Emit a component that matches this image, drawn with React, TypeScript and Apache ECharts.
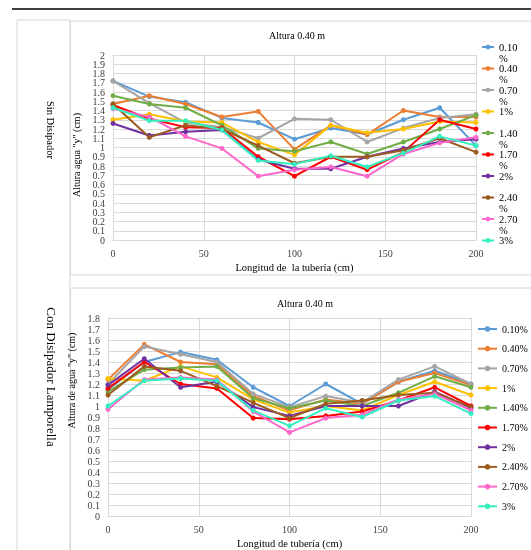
import React, { useEffect, useRef } from 'react';
import * as echarts from 'echarts';

const distances = [0, 20, 40, 60, 80, 100, 120, 140, 160, 180, 200];
const slopeNames = ['0.10%', '0.40%', '0.70%', '1%', '1.40%', '1.70%', '2%', '2.40%', '2.70%', '3%'];
const lineColors = ['#5B9BD5', '#ED7D31', '#A5A5A5', '#FFC000', '#70AD47', '#FF0000', '#7030A0', '#9C5B1F', '#FF66CC', '#33F0C0'];

// Sin Disipador (top chart)
const sin_0_10 = [1.72, 1.55, 1.49, 1.32, 1.27, 1.09, 1.21, 1.14, 1.30, 1.43, 1.02];
const sin_0_40 = [1.47, 1.56, 1.47, 1.33, 1.39, 0.98, 1.24, 1.14, 1.40, 1.33, 1.33];
const sin_0_70 = [1.72, 1.48, 1.27, 1.22, 1.10, 1.31, 1.30, 1.06, 1.21, 1.32, 1.36];
const sin_1 = [1.30, 1.36, 1.28, 1.27, 1.06, 0.92, 1.24, 1.16, 1.20, 1.28, 1.27];
const sin_1_40 = [1.56, 1.47, 1.43, 1.24, 0.99, 0.96, 1.06, 0.93, 1.06, 1.20, 1.35];
const sin_1_70 = [1.46, 1.31, 1.22, 1.21, 0.90, 0.69, 0.90, 0.76, 0.95, 1.30, 1.20];
const sin_2 = [1.26, 1.13, 1.17, 1.19, 0.87, 0.77, 0.77, 0.90, 0.99, 1.06, 1.09];
const sin_2_40 = [1.47, 1.11, 1.24, 1.20, 1.02, 0.83, 0.90, 0.90, 0.97, 1.10, 0.95];
const sin_2_70 = [1.42, 1.33, 1.12, 0.99, 0.69, 0.76, 0.79, 0.69, 0.93, 1.05, 1.11];
const sin_3 = [1.43, 1.29, 1.29, 1.19, 0.86, 0.82, 0.91, 0.79, 0.94, 1.12, 1.02];

// Con Disipador Lamporella (bottom chart)
const con_0_10 = [1.15, 1.40, 1.49, 1.42, 1.17, 1.00, 1.20, 1.02, 1.22, 1.32, 1.20];
const con_0_40 = [1.24, 1.56, 1.40, 1.38, 1.09, 0.96, 1.06, 1.02, 1.22, 1.30, 1.19];
const con_0_70 = [1.20, 1.54, 1.47, 1.40, 1.11, 0.99, 1.09, 1.03, 1.24, 1.36, 1.20];
const con_1 = [1.25, 1.23, 1.36, 1.26, 1.06, 0.94, 1.00, 0.96, 1.10, 1.22, 1.10];
const con_1_40 = [1.13, 1.33, 1.35, 1.36, 1.07, 0.98, 1.05, 1.00, 1.12, 1.27, 1.17];
const con_1_70 = [1.16, 1.40, 1.20, 1.16, 0.89, 0.88, 0.91, 0.95, 1.05, 1.17, 1.00];
const con_2 = [1.19, 1.43, 1.17, 1.22, 0.99, 0.91, 1.00, 1.00, 1.00, 1.13, 0.98];
const con_2_40 = [1.10, 1.36, 1.32, 1.18, 1.03, 0.89, 1.02, 1.05, 1.10, 1.12, 0.99];
const con_2_70 = [0.97, 1.24, 1.26, 1.24, 0.95, 0.76, 0.89, 0.92, 1.06, 1.11, 0.96];
const con_3 = [1.00, 1.23, 1.25, 1.23, 0.96, 0.82, 0.98, 0.90, 1.05, 1.09, 0.93];

const sinSeries = [sin_0_10, sin_0_40, sin_0_70, sin_1, sin_1_40, sin_1_70, sin_2, sin_2_40, sin_2_70, sin_3];
const conSeries = [con_0_10, con_0_40, con_0_70, con_1, con_1_40, con_1_70, con_2, con_2_40, con_2_70, con_3];

const FONT = '"Liberation Serif", "Times New Roman", serif';
const GRID_GRAY = '#d9d9d9';
const FRAME_GRAY = '#d6d6d6';

export default function App() {
  const ref = useRef<HTMLDivElement>(null);

  useEffect(() => {
    const chart = echarts.init(ref.current as HTMLDivElement, null, { renderer: 'svg' });

    const labelStyle = { fontFamily: FONT, fontSize: 10, color: '#404040', margin: 8 };

    const mkX = (gridIndex: number, name: string) => ({
      type: 'value',
      gridIndex,
      min: 0,
      max: 200,
      interval: 50,
      name,
      nameLocation: 'middle',
      nameGap: 22,
      nameTextStyle: { fontFamily: FONT, fontSize: 10.5, color: '#000' },
      axisLine: { show: true, lineStyle: { color: GRID_GRAY } },
      axisTick: { show: false },
      splitLine: { show: true, lineStyle: { color: GRID_GRAY } },
      axisLabel: labelStyle,
    });

    const mkY = (gridIndex: number, max: number, name: string, pad: number[]) => ({
      type: 'value',
      gridIndex,
      min: 0,
      max,
      interval: 0.1,
      name,
      nameLocation: 'middle',
      nameGap: 27,
      nameTextStyle: { fontFamily: FONT, fontSize: 10, color: '#000', padding: pad },
      axisLine: { show: true, lineStyle: { color: GRID_GRAY } },
      axisTick: { show: false },
      splitLine: { show: true, lineStyle: { color: GRID_GRAY } },
      axisLabel: labelStyle,
    });

    // extra label-only axis on the top grid so that its end labels (0 and 2) are not dropped
    const topEnds = {
      type: 'value',
      gridIndex: 0,
      position: 'left',
      min: 0,
      max: 2,
      interval: 2,
      axisLine: { show: false },
      axisTick: { show: false },
      splitLine: { show: false },
      axisLabel: labelStyle,
    };

    const mkSeries = (sets: number[][], axis: number) =>
      sets.map((vals, i) => ({
        name: slopeNames[i],
        type: 'line',
        xAxisIndex: axis,
        yAxisIndex: axis,
        data: distances.map((d, j) => [d, vals[j]]),
        symbol: 'circle',
        symbolSize: 5,
        lineStyle: { width: 2, color: lineColors[i] },
        itemStyle: { color: lineColors[i] },
      }));

    const option = {
      animation: false,
      color: lineColors,
      grid: [
        { left: 113, top: 55, width: 363, height: 185 },
        { left: 108, top: 318, width: 363, height: 199 },
      ],
      xAxis: [mkX(0, 'Longitud de  la tubería (cm)'), mkX(1, 'Longitud de tubería (cm)')],
      yAxis: [
        mkY(0, 2, 'Altura agua "y" (cm)', [0, 15, 0, 0]),
        mkY(1, 1.8, 'Altura de agua "y" (cm)', [0, 0, 0, 73]),
        topEnds,
      ],
      legend: [
        {
          orient: 'vertical',
          left: 476,
          top: 25.5,
          itemWidth: 12,
          itemHeight: 6,
          itemGap: -11.5,
          data: slopeNames,
          formatter: (name: string) => {
            const m = name.match(/^(\d\.\d+)%$/);
            return m ? ' \n' + m[1] + '\n%' : ' \n' + name + '\n ';
          },
          textStyle: { fontFamily: FONT, fontSize: 10.5, lineHeight: 11, color: '#000' },
        },
        {
          orient: 'vertical',
          left: 472,
          top: 318,
          itemWidth: 19,
          itemHeight: 7,
          itemGap: 7.7,
          data: slopeNames,
          textStyle: { fontFamily: FONT, fontSize: 10, lineHeight: 12, color: '#000' },
        },
      ],
      series: [...mkSeries(sinSeries, 0), ...mkSeries(conSeries, 1)],
      graphic: [
        { type: 'line', shape: { x1: 12, y1: 9, x2: 531, y2: 9 }, style: { stroke: '#000', lineWidth: 1.5 }, silent: true },
        { type: 'line', shape: { x1: 17, y1: 20, x2: 70, y2: 20 }, style: { stroke: FRAME_GRAY, lineWidth: 1 }, silent: true },
        { type: 'line', shape: { x1: 17, y1: 20, x2: 17, y2: 550 }, style: { stroke: FRAME_GRAY, lineWidth: 1 }, silent: true },
        { type: 'line', shape: { x1: 70, y1: 20, x2: 70, y2: 550 }, style: { stroke: FRAME_GRAY, lineWidth: 1 }, silent: true },
        { type: 'rect', shape: { x: 70.5, y: 21, width: 470, height: 254 }, style: { fill: 'none', stroke: FRAME_GRAY, lineWidth: 1 }, silent: true },
        { type: 'rect', shape: { x: 70.5, y: 288, width: 470, height: 280 }, style: { fill: 'none', stroke: FRAME_GRAY, lineWidth: 1 }, silent: true },
        {
          type: 'text', x: 297, y: 35,
          style: { text: 'Altura 0.40 m', font: `10px ${FONT}`, fill: '#000', align: 'center', verticalAlign: 'middle' },
        },
        {
          type: 'text', x: 305, y: 303,
          style: { text: 'Altura 0.40 m', font: `10px ${FONT}`, fill: '#000', align: 'center', verticalAlign: 'middle' },
        },
        {
          type: 'text', x: 50, y: 130, rotation: -Math.PI / 2,
          style: { text: 'Sin Disipador', font: `10.5px ${FONT}`, fill: '#000', align: 'center', verticalAlign: 'middle' },
        },
        {
          type: 'text', x: 51, y: 377, rotation: -Math.PI / 2,
          style: { text: 'Con Disipador Lamporella', font: `13px ${FONT}`, fill: '#000', align: 'center', verticalAlign: 'middle' },
        },
      ],
    };

    chart.setOption(option as any);
    return () => chart.dispose();
  }, []);

  return <div ref={ref} style={{ position: 'fixed', left: 0, top: 0, width: 531, height: 550 }} />;
}
